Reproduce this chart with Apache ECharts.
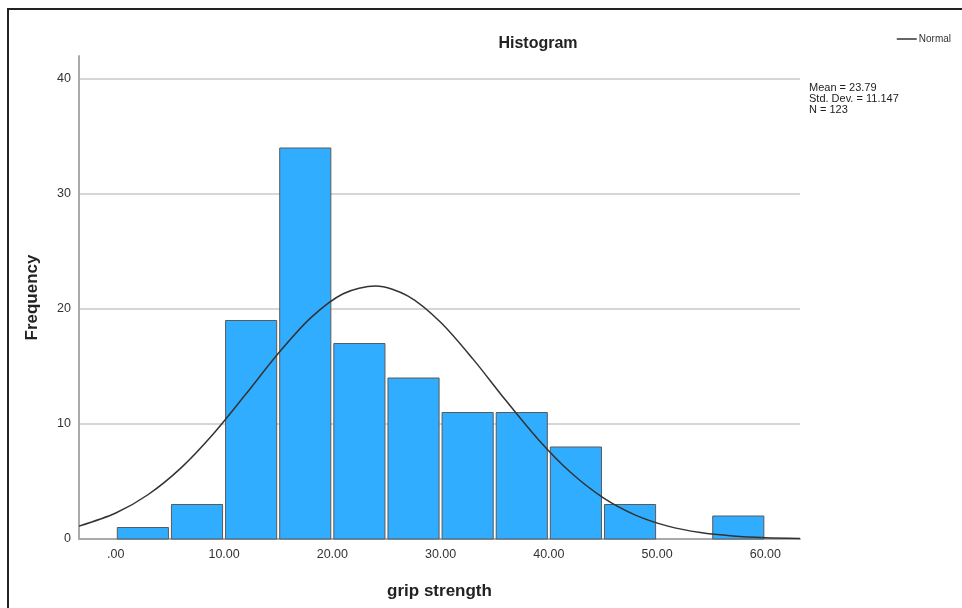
<!DOCTYPE html>
<html>
<head>
<meta charset="utf-8">
<script src="https://cdn.jsdelivr.net/npm/echarts@6/dist/echarts.min.js"></script>
<style>
  html, body { margin: 0; padding: 0; background: #fff; }
  #chart { width: 962px; height: 608px; }
</style>
</head>
<body>
<div id="chart"></div>
<script>
// histogram bins (start, end) and frequencies
const binStarts = [0, 5, 10, 15, 20, 25, 30, 35, 40, 45, 50, 55]
const binEnds = [5, 10, 15, 20, 25, 30, 35, 40, 45, 50, 55, 60]
const frequencies = [1, 3, 19, 34, 17, 14, 11, 11, 8, 3, 0, 2]

// normal curve
const curveX = [-3.4, 0, 3, 6, 9, 12, 15, 18, 21, 24, 27, 30, 33, 36, 39, 42, 45, 48, 51, 54, 57, 60, 63.2]
const curveY = [1.12, 2.26, 3.87, 6.16, 9.13, 12.58, 16.13, 19.23, 21.33, 22.0, 21.12, 18.85, 15.64, 12.08, 8.68, 5.8, 3.6, 2.08, 1.12, 0.56, 0.26, 0.11, 0.05]

const xTicks = [0, 10, 20, 30, 40, 50, 60]
const statLines = ['Mean = 23.79', 'Std. Dev. = 11.147', 'N = 123']

const font = 'Liberation Sans, Arial, sans-serif'

const barData = binStarts.map((s, i) => [s, binEnds[i], frequencies[i]])
const curveData = curveX.map((x, i) => [x, curveY[i]])

const chart = echarts.init(document.getElementById('chart'))

chart.setOption({
  backgroundColor: '#fff',
  animation: false,
  title: {
    text: 'Histogram',
    left: 533,
    top: 31,
    textAlign: 'center',
    textStyle: { fontFamily: font, fontSize: 16, fontWeight: 'bold', color: '#222' }
  },
  legend: {
    right: 6,
    top: 29,
    data: ['Normal'],
    icon: 'rect',
    itemWidth: 20,
    itemHeight: 1.5,
    itemGap: 2,
    textStyle: { fontFamily: font, fontSize: 10, color: '#333', padding: [0, 0, 0, -3] }
  },
  grid: {
    left: 79,
    right: 162,
    top: 56,
    bottom: 69
  },
  xAxis: {
    type: 'value',
    min: -3.4,
    max: 63.2,
    name: 'grip strength',
    nameLocation: 'middle',
    nameGap: 44,
    nameTextStyle: { fontFamily: font, fontSize: 17, fontWeight: 'bold', color: '#222' },
    axisLine: { show: true, onZero: false, lineStyle: { color: '#aaa', width: 2 } },
    axisTick: { show: false },
    splitLine: { show: false },
    axisLabel: {
      customValues: xTicks,
      margin: 9,
      fontFamily: font,
      fontSize: 12.5,
      color: '#333',
      formatter: v => (v === 0 ? '.00' : v.toFixed(2))
    }
  },
  yAxis: {
    type: 'value',
    min: 0,
    max: 42,
    interval: 10,
    name: 'Frequency',
    nameLocation: 'middle',
    nameGap: 38,
    nameTextStyle: { fontFamily: font, fontSize: 17, fontWeight: 'bold', color: '#222' },
    axisLine: { show: true, onZero: false, lineStyle: { color: '#aaa', width: 2 } },
    axisTick: { show: false },
    axisLabel: {
      showMaxLabel: false,
      margin: 8,
      fontFamily: font,
      fontSize: 12.5,
      color: '#333'
    },
    splitLine: {
      show: true,
      showMinLine: false,
      showMaxLine: false,
      lineStyle: { color: '#d6d6d6', width: 2 }
    }
  },
  series: [
    {
      name: 'Frequency',
      type: 'custom',
      data: barData,
      encode: { x: [0, 1], y: 2 },
      renderItem: (params, api) => {
        const p0 = api.coord([api.value(0), 0])
        const p1 = api.coord([api.value(1), api.value(2)])
        const h = p0[1] - p1[1]
        if (h <= 0) return null
        return {
          type: 'rect',
          shape: { x: p0[0] + 1.5, y: p1[1], width: p1[0] - p0[0] - 3, height: h },
          style: { fill: '#31adff', stroke: '#5a5a5a', lineWidth: 1 }
        }
      },
      z: 2
    },
    {
      name: 'Normal',
      type: 'line',
      data: curveData,
      smooth: 0.3,
      showSymbol: false,
      lineStyle: { color: '#333', width: 1.5 },
      itemStyle: { color: '#333' },
      z: 3
    }
  ],
  graphic: [
    {
      type: 'rect',
      shape: { x: 8, y: 9, width: 1000, height: 700 },
      style: { fill: null, stroke: '#222', lineWidth: 2 },
      silent: true
    },
    {
      type: 'text',
      left: 809,
      top: 82,
      style: {
        text: statLines.join('\n'),
        fontFamily: font,
        fontSize: 11,
        lineHeight: 11,
        fill: '#222'
      }
    }
  ]
})
</script>
</body>
</html>
